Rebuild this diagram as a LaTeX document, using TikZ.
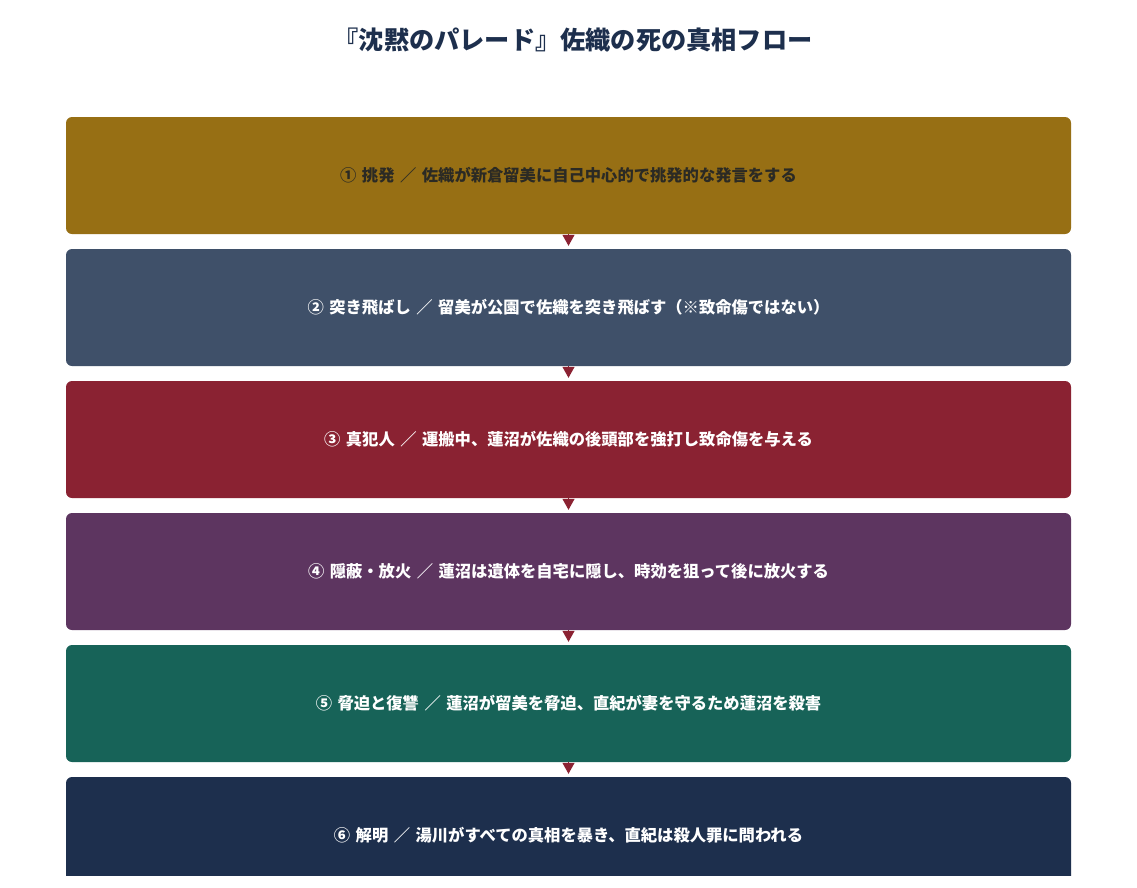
\documentclass[tikz,border=0pt]{standalone}
\usepackage{fontspec}
\setmainfont{Noto Sans CJK JP}
\usetikzlibrary{arrows.meta}
\definecolor{cgold}{HTML}{976F14}
\definecolor{cslate}{HTML}{3F5069}
\definecolor{cred}{HTML}{8A2232}
\definecolor{cplum}{HTML}{5D3560}
\definecolor{cteal}{HTML}{176358}
\definecolor{cnavy}{HTML}{1D2F4D}
\definecolor{cdark}{HTML}{2B2A24}
\definecolor{carrow}{HTML}{8B2232}
\newcommand\boxfont{\bfseries\fontsize{16.3}{20}\selectfont\spaceskip=5.5pt\relax}
\tikzset{
  stepbox/.style={rectangle, rounded corners=6pt, minimum width=1005pt, minimum height=117pt, inner sep=0pt, font=\boxfont, text=white},
  arr/.style={draw=carrow, line width=1pt, -{Triangle[length=11pt,width=12pt]}, shorten >=3pt, fill=carrow},
}
\begin{document}
\begin{tikzpicture}[x=1pt,y=-1pt]
\useasboundingbox (0,0) rectangle (1137,887);
\fill[white] (0,0) rectangle (1137,887);
\node[font=\bfseries\fontsize{25.2}{30}\selectfont, text=cnavy] (title) at (573,40) {『沈黙のパレード』佐織の死の真相フロー};
\begin{scope}
\clip (0,0) rectangle (1137,875);
\node[stepbox, fill=cgold, text=cdark] (b1) at (568.5,175.5) {① 挑発 ／ 佐織が新倉留美に自己中心的で挑発的な発言をする};
\node[stepbox, fill=cslate] (b2) at (568.5,307.5) {② 突き飛ばし ／ 留美が公園で佐織を突き飛ばす（※致命傷ではない）};
\node[stepbox, fill=cred] (b3) at (568.5,439.5) {③ 真犯人 ／ 運搬中、蓮沼が佐織の後頭部を強打し致命傷を与える};
\node[stepbox, fill=cplum] (b4) at (568.5,571.5) {④ 隠蔽・放火 ／ 蓮沼は遺体を自宅に隠し、時効を狙って後に放火する};
\node[stepbox, fill=cteal] (b5) at (568.5,703.5) {⑤ 脅迫と復讐 ／ 蓮沼が留美を脅迫、直紀が妻を守るため蓮沼を殺害};
\node[stepbox, fill=cnavy] (b6) at (568.5,835.5) {⑥ 解明 ／ 湯川がすべての真相を暴き、直紀は殺人罪に問われる};
\end{scope}
\draw[arr] (b1.south) -- (b2.north);
\draw[arr] (b2.south) -- (b3.north);
\draw[arr] (b3.south) -- (b4.north);
\draw[arr] (b4.south) -- (b5.north);
\draw[arr] (b5.south) -- (b6.north);
\end{tikzpicture}
\end{document}
